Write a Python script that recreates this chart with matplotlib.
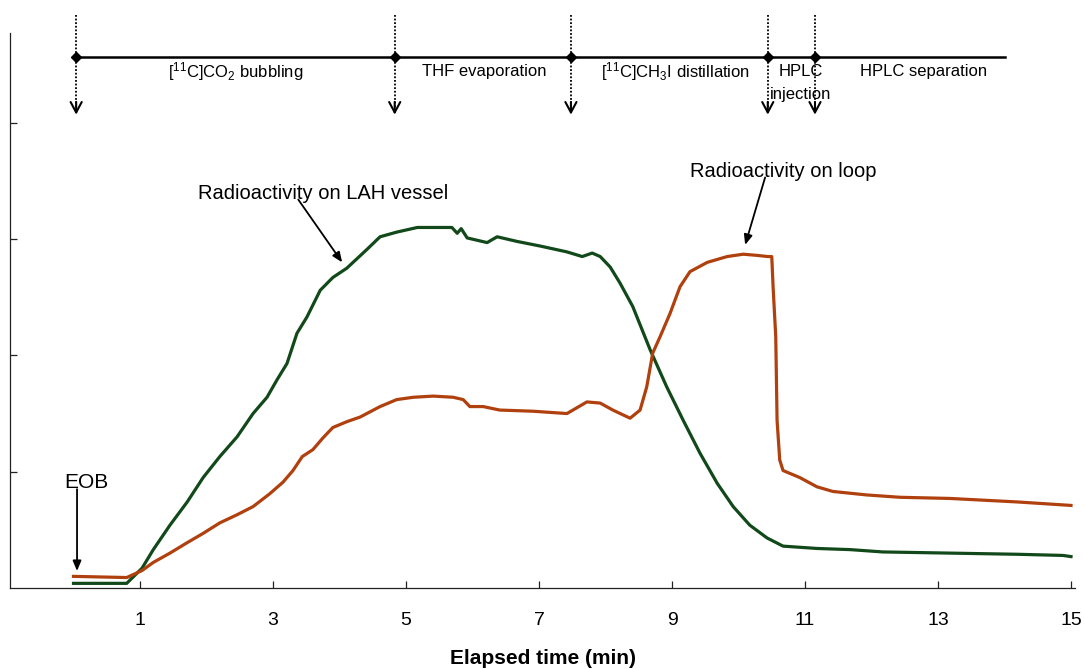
import matplotlib
matplotlib.use("Agg")
import matplotlib.pyplot as plt

plt.rcParams["font.family"] = ["Liberation Sans", "DejaVu Sans"]
plt.rcParams["mathtext.fontset"] = "custom"
plt.rcParams["mathtext.rm"] = "Liberation Sans"
plt.rcParams["mathtext.it"] = "Liberation Sans:italic"

# radioactivity on LAH vessel (green)
t_lah = [0, 0.80, 1.03, 1.20, 1.45, 1.71, 1.95, 2.20, 2.46, 2.70, 2.91, 3.06,
         3.21, 3.36, 3.51, 3.71, 3.90, 4.11, 4.41, 4.61, 4.86, 5.17, 5.41, 5.69,
         5.77, 5.83, 5.92, 6.22, 6.37, 6.67, 7.02, 7.42, 7.65, 7.80, 7.92, 8.07,
         8.22, 8.41, 8.67, 8.92, 9.17, 9.42, 9.68, 9.92, 10.17, 10.43, 10.67,
         11.18, 11.68, 12.17, 13.18, 14.19, 14.88, 15.0]
y_lah = [0.04, 0.04, 0.17, 0.33, 0.54, 0.74, 0.95, 1.13, 1.30, 1.50, 1.64, 1.79,
         1.93, 2.19, 2.33, 2.56, 2.67, 2.75, 2.91, 3.02, 3.06, 3.10, 3.10, 3.10,
         3.05, 3.09, 3.01, 2.97, 3.02, 2.98, 2.94, 2.89, 2.85, 2.88, 2.85, 2.76,
         2.62, 2.42, 2.05, 1.73, 1.44, 1.16, 0.90, 0.70, 0.54, 0.43, 0.36,
         0.34, 0.33, 0.31, 0.30, 0.29, 0.28, 0.27]

# radioactivity on loop (orange)
t_loop = [0, 0.80, 1.03, 1.20, 1.45, 1.71, 1.95, 2.20, 2.46, 2.70, 2.95, 3.15,
          3.30, 3.44, 3.60, 3.75, 3.90, 4.11, 4.31, 4.61, 4.86, 5.11, 5.41, 5.71,
          5.86, 5.96, 6.16, 6.41, 6.91, 7.42, 7.57, 7.72, 7.92, 8.11, 8.37, 8.52,
          8.62, 8.71, 8.82, 8.97, 9.12, 9.27, 9.53, 9.83, 10.07, 10.28, 10.44,
          10.50, 10.52, 10.56, 10.58, 10.62, 10.67, 10.92, 11.18, 11.42, 11.93,
          12.43, 13.18, 14.19, 15.0]
y_loop = [0.10, 0.09, 0.15, 0.22, 0.30, 0.39, 0.47, 0.56, 0.63, 0.70, 0.81, 0.91,
          1.01, 1.13, 1.19, 1.29, 1.38, 1.43, 1.47, 1.56, 1.62, 1.64, 1.65, 1.64,
          1.62, 1.56, 1.56, 1.53, 1.52, 1.50, 1.55, 1.60, 1.59, 1.53, 1.46, 1.53,
          1.73, 2.02, 2.16, 2.36, 2.59, 2.72, 2.80, 2.85, 2.87, 2.86, 2.85,
          2.85, 2.59, 2.16, 1.44, 1.10, 1.01, 0.95, 0.87, 0.83, 0.80,
          0.78, 0.77, 0.74, 0.71]

# process steps
event_times = [0.04, 4.83, 7.48, 10.44, 11.15]
timeline_end = 14.0
phase_labels = ["[$^{11}$C]CO$_2$ bubbling", "THF evaporation",
                "[$^{11}$C]CH$_3$I distillation", "HPLC", "HPLC separation"]
phase_centers = [2.44, 6.17, 9.06, 10.94, 12.79]

xticks = [1, 3, 5, 7, 9, 11, 13, 15]
yticks = [1, 2, 3, 4]

fig = plt.figure(figsize=(10.85, 6.69), dpi=100)
ax = fig.add_axes([10 / 1085, 81 / 669, 1065 / 1085, 581.5 / 669])

ax.plot(t_lah, y_lah, color="#12491a", linewidth=2.3, solid_joinstyle="round")
ax.plot(t_loop, y_loop, color="#b0400e", linewidth=2.3, solid_joinstyle="round")

ax.set_xlim(-0.955, 15.06)
ax.set_ylim(0, 5.0)

# timeline on top
y_line = 4.566
ax.plot([event_times[0], timeline_end], [y_line, y_line], color="black", linewidth=1.8)
ax.plot(event_times, [y_line] * len(event_times), linestyle="none",
        marker="D", markersize=5.5, color="black")

for t in event_times:
    ax.plot([t, t], [4.93, 4.10], color="black", linestyle=(0, (1, 1)),
            linewidth=1.3, clip_on=False)
    ax.annotate("", xy=(t, 4.07), xytext=(t, 4.18),
                arrowprops=dict(arrowstyle="->,head_length=0.75,head_width=0.4",
                                color="black", linewidth=1.5, shrinkA=0, shrinkB=0))

for label, xc in zip(phase_labels, phase_centers):
    ax.text(xc, 4.44, label, ha="center", va="center", fontsize=12)
ax.text(phase_centers[3], 4.245, "injection", ha="center", va="center", fontsize=12)

# annotations
ax.text(3.75, 3.39, "Radioactivity on LAH vessel", ha="center", va="center", fontsize=14.5)
ax.annotate("", xy=(4.04, 2.80), xytext=(3.38, 3.34),
            arrowprops=dict(arrowstyle="-|>,head_length=0.6,head_width=0.25",
                            color="black", linewidth=1.3, shrinkA=0, shrinkB=0))

ax.text(10.67, 3.58, "Radioactivity on loop", ha="center", va="center", fontsize=14.5)
ax.annotate("", xy=(10.10, 2.95), xytext=(10.40, 3.53),
            arrowprops=dict(arrowstyle="-|>,head_length=0.6,head_width=0.25",
                            color="black", linewidth=1.3, shrinkA=0, shrinkB=0))

ax.text(0.19, 0.905, "EOB", ha="center", va="center", fontsize=15)
ax.annotate("", xy=(0.053, 0.146), xytext=(0.053, 0.85),
            arrowprops=dict(arrowstyle="-|>,head_length=0.6,head_width=0.25",
                            color="black", linewidth=1.3, shrinkA=0, shrinkB=0))

# axes styling
ax.spines["top"].set_visible(False)
ax.spines["right"].set_visible(False)
ax.spines["left"].set_bounds(0, 4.77)
for side in ["left", "bottom"]:
    ax.spines[side].set_linewidth(0.9)
    ax.spines[side].set_color("#222222")

ax.set_xticks(xticks)
ax.set_xticklabels([str(v) for v in xticks])
ax.set_yticks(yticks)
ax.set_yticklabels([])
ax.tick_params(axis="both", direction="in", length=5, width=0.9, color="#222222")
ax.tick_params(axis="x", labelsize=14, pad=17)

ax.set_xlabel("Elapsed time (min)", fontsize=15, fontweight="bold", labelpad=15)

fig.savefig("out.png", dpi=100)
